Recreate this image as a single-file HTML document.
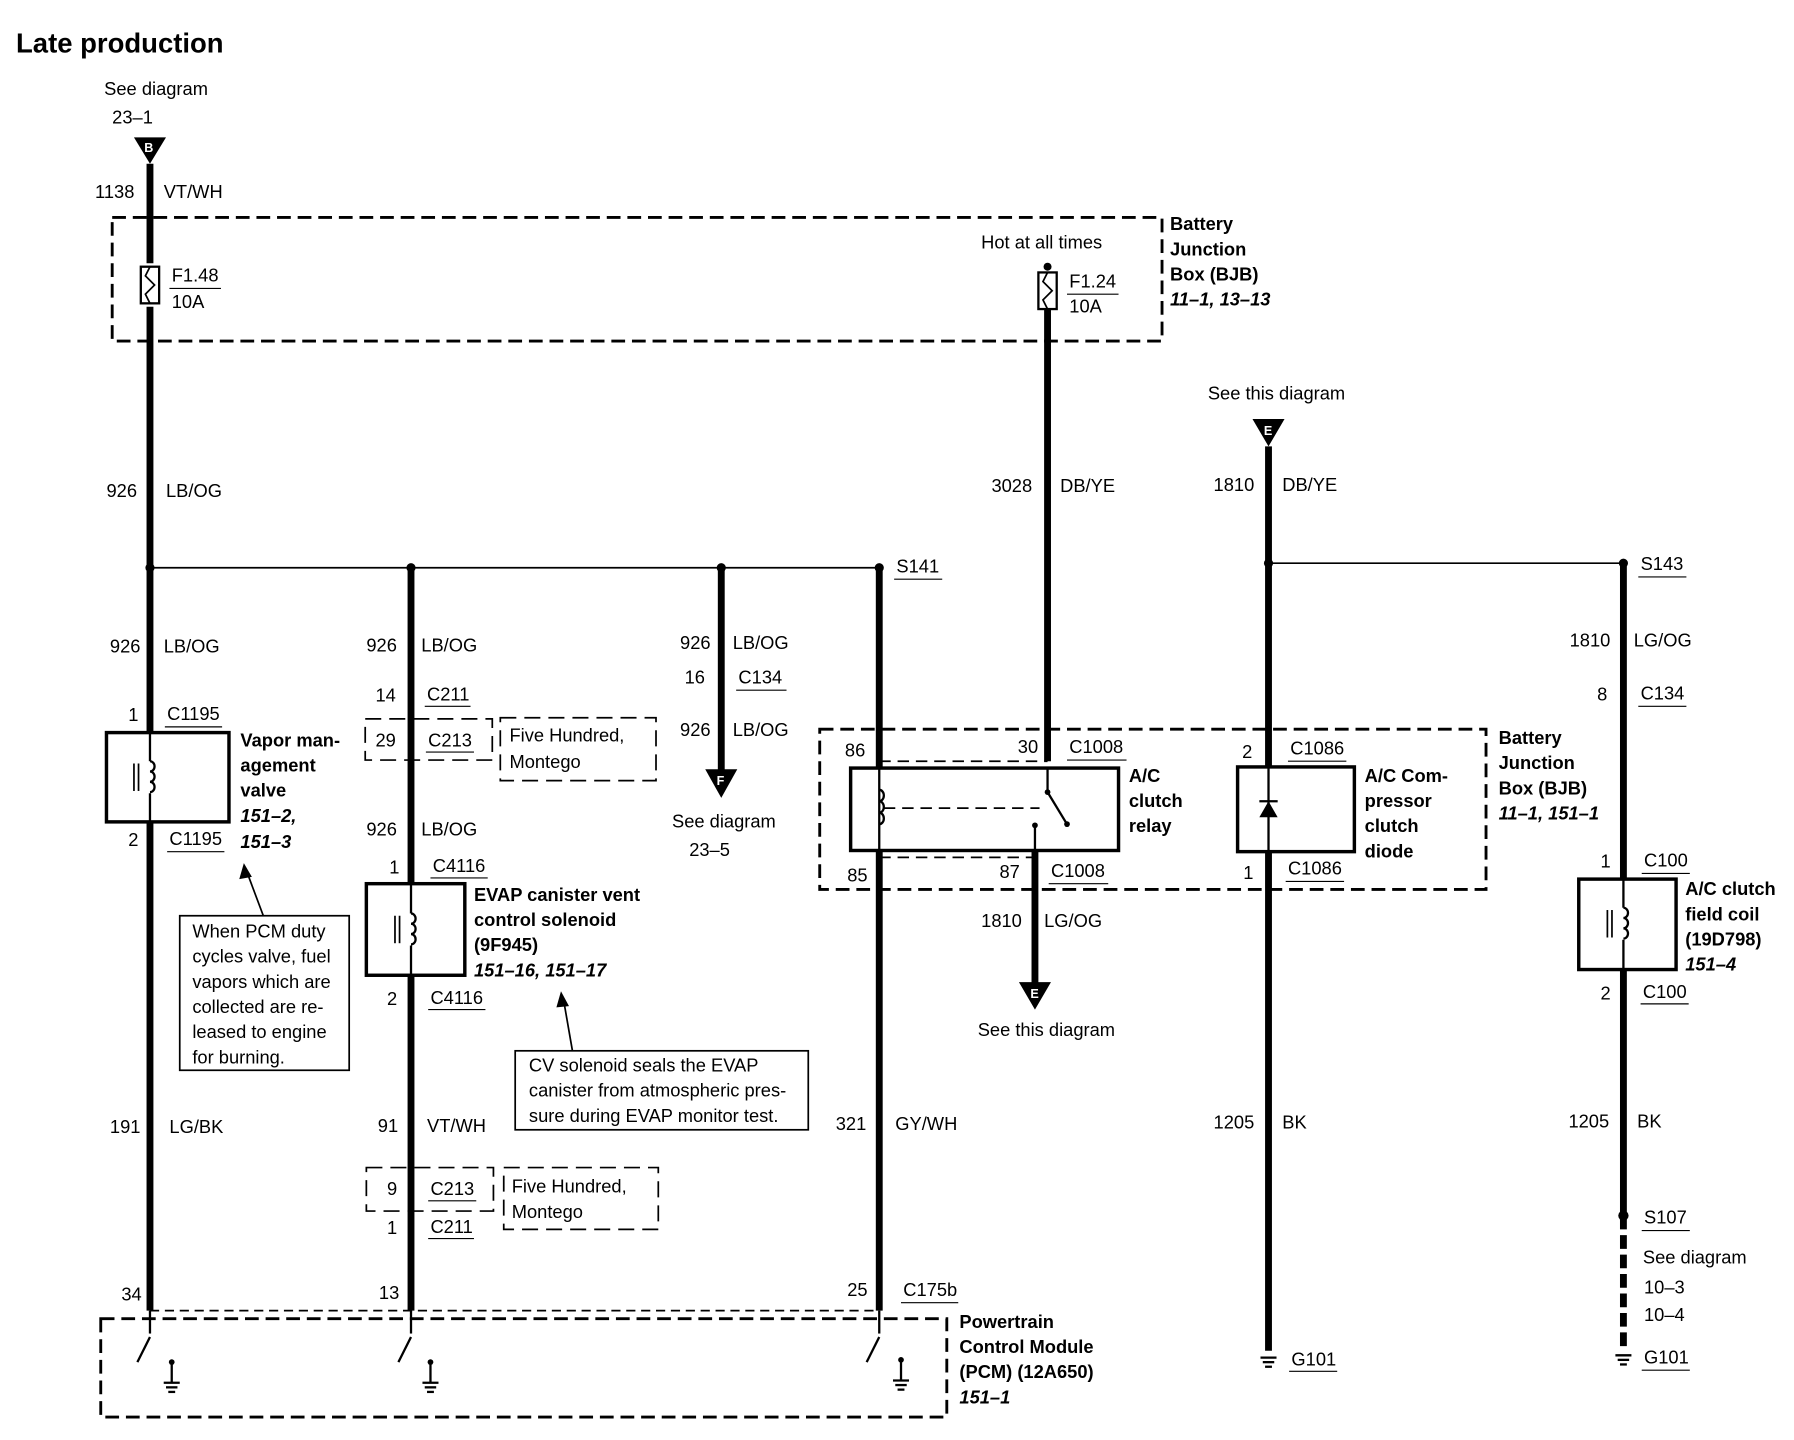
<!DOCTYPE html>
<html><head><meta charset="utf-8"><style>
html,body{margin:0;padding:0;background:#fff;}
svg{display:block;}
text{font-family:"Liberation Sans",Arial,sans-serif;font-size:16px;fill:#000;}
.b{font-weight:bold;}
.i{font-weight:bold;font-style:italic;}
.w{stroke:#000;stroke-width:6;fill:none;}
.t{stroke:#000;stroke-width:1.5;fill:none;}
.d{stroke:#000;stroke-width:2.5;fill:none;stroke-dasharray:12,6;}
.dt{stroke:#000;stroke-width:1.5;fill:none;stroke-dasharray:14,7;}
.bx{stroke:#000;stroke-width:3;fill:#fff;}
.u{stroke:#000;stroke-width:1;}
</style></head><body>
<svg width="1794" height="1440" viewBox="0 0 1567 1258" preserveAspectRatio="none" xmlns="http://www.w3.org/2000/svg">
<defs>
<g id="coil"><line x1="-14" y1="-12" x2="-14" y2="12" class="t"/><line x1="-10" y1="-12" x2="-10" y2="12" class="t"/><path d="M0,-14 a4,4.5 0 0 1 0,9 a4,4.5 0 0 1 0,9 a4,4.5 0 0 1 0,9" class="t" style="stroke-width:2"/></g>
</defs>
<text x="14" y="46" class="b" style="font-size:24px">Late production</text>
<text x="91" y="83">See diagram</text>
<text x="98" y="108">23–1</text>
<polygon points="117,120 145,120 131,143" fill="#000"/>
<text x="126" y="133" style="fill:#fff;font-size:11px" class="b">B</text>
<line x1="131" y1="143" x2="131" y2="230" class="w"/>
<line x1="131" y1="268" x2="131" y2="1145" class="w"/>
<text x="83" y="173">1138</text><text x="143" y="173">VT/WH</text>
<rect x="98" y="190" width="917" height="108" class="d"/>
<rect x="123" y="233" width="16" height="32" class="t" style="stroke-width:2"/>
<path d="M131,233 l-4,8 8,8 -8,8 4,8" class="t"/>
<text x="150" y="246">F1.48</text><line x1="148" y1="252" x2="193" y2="252" class="u"/><text x="150" y="269">10A</text>
<text x="857" y="217">Hot at all times</text>
<circle cx="915" cy="233" r="3.5"/>
<rect x="907" y="238" width="16" height="32" class="t" style="stroke-width:2"/>
<path d="M915,238 l-4,8 8,8 -8,8 4,8" class="t"/>
<text x="934" y="251">F1.24</text><line x1="932" y1="257" x2="977" y2="257" class="u"/><text x="934" y="273">10A</text>
<line x1="915" y1="270" x2="915" y2="665" class="w"/>
<text x="1022" y="201" class="b">Battery</text><text x="1022" y="223" class="b">Junction</text><text x="1022" y="245" class="b">Box (BJB)</text><text x="1022" y="267" class="i">11–1, 13–13</text>
<text x="93" y="434">926</text><text x="145" y="434">LB/OG</text>
<line x1="131" y1="496" x2="768" y2="496" class="t"/>
<circle cx="131" cy="496" r="4"/><circle cx="359" cy="496" r="4"/><circle cx="630" cy="496" r="4"/><circle cx="768" cy="496" r="4"/>
<text x="783" y="500">S141</text><line x1="781" y1="506" x2="823" y2="506" class="u"/>
<text x="866" y="430">3028</text><text x="926" y="430">DB/YE</text>
<text x="1055" y="349">See this diagram</text>
<polygon points="1094,366 1122,366 1108,390" fill="#000"/>
<text x="1104" y="380" style="fill:#fff;font-size:11px" class="b">E</text>
<line x1="1108" y1="390" x2="1108" y2="1180" class="w"/>
<text x="1060" y="429">1810</text><text x="1120" y="429">DB/YE</text>
<line x1="1108" y1="492" x2="1418" y2="492" class="t"/>
<circle cx="1108" cy="492" r="4"/><circle cx="1418" cy="492" r="4"/>
<text x="1433" y="498">S143</text><line x1="1431" y1="504" x2="1473" y2="504" class="u"/>
<!-- col1 -->
<text x="96" y="570">926</text><text x="143" y="570">LB/OG</text>
<text x="112" y="630">1</text><text x="146" y="629">C1195</text><line x1="144" y1="635" x2="194" y2="635" class="u"/>
<rect x="93" y="640" width="107" height="78" class="bx"/>
<use href="#coil" x="131" y="679"/>
<line x1="131" y1="640" x2="131" y2="665" class="t" style="stroke-width:2"/><line x1="131" y1="693" x2="131" y2="718" class="t" style="stroke-width:2"/>
<text x="112" y="739">2</text><text x="148" y="738">C1195</text><line x1="146" y1="744" x2="196" y2="744" class="u"/>
<text x="210" y="652" class="b">Vapor man-</text><text x="210" y="674" class="b">agement</text><text x="210" y="696" class="b">valve</text><text x="210" y="718" class="i">151–2,</text><text x="210" y="741" class="i">151–3</text>
<rect x="157" y="800" width="148" height="135" class="t"/>
<line x1="230" y1="800" x2="215" y2="760" class="t"/><polygon points="213,754 209,768 220,766"/>
<text x="168" y="819">When PCM duty</text><text x="168" y="841">cycles valve, fuel</text><text x="168" y="863">vapors which are</text><text x="168" y="885">collected are re-</text><text x="168" y="907">leased to engine</text><text x="168" y="929">for burning.</text>
<text x="96" y="990">191</text><text x="148" y="990">LG/BK</text>
<text x="106" y="1136">34</text>
<!-- col2 -->
<line x1="359" y1="496" x2="359" y2="772" class="w"/>
<line x1="359" y1="852" x2="359" y2="1145" class="w"/>
<text x="320" y="569">926</text><text x="368" y="569">LB/OG</text>
<text x="328" y="613">14</text><text x="373" y="612">C211</text><line x1="371" y1="617" x2="411" y2="617" class="u"/>
<rect x="319" y="628" width="111" height="36" class="dt"/>
<text x="328" y="652">29</text><text x="374" y="652">C213</text><line x1="372" y1="657" x2="414" y2="657" class="u"/>
<rect x="437" y="627" width="136" height="55" class="dt"/>
<text x="445" y="648">Five Hundred,</text><text x="445" y="671">Montego</text>
<text x="320" y="730">926</text><text x="368" y="730">LB/OG</text>
<text x="340" y="763">1</text><text x="378" y="762">C4116</text><line x1="376" y1="767" x2="426" y2="767" class="u"/>
<rect x="320" y="772" width="86" height="80" class="bx"/>
<use href="#coil" x="359" y="812"/>
<line x1="359" y1="772" x2="359" y2="798" class="t" style="stroke-width:2"/><line x1="359" y1="826" x2="359" y2="852" class="t" style="stroke-width:2"/>
<text x="338" y="878">2</text><text x="376" y="877">C4116</text><line x1="374" y1="882" x2="424" y2="882" class="u"/>
<text x="414" y="787" class="b">EVAP canister vent</text><text x="414" y="809" class="b">control solenoid</text><text x="414" y="831" class="b">(9F945)</text><text x="414" y="853" class="i">151–16, 151–17</text>
<rect x="450" y="918" width="256" height="69" class="t"/>
<line x1="500" y1="918" x2="492" y2="872" class="t"/><polygon points="490,866 486,880 497,879"/>
<text x="462" y="936">CV solenoid seals the EVAP</text><text x="462" y="958">canister from atmospheric pres-</text><text x="462" y="980">sure during EVAP monitor test.</text>
<text x="330" y="989">91</text><text x="373" y="989">VT/WH</text>
<rect x="320" y="1020" width="111" height="38" class="dt"/>
<text x="338" y="1044">9</text><text x="376" y="1044">C213</text><line x1="374" y1="1049" x2="416" y2="1049" class="u"/>
<rect x="440" y="1020" width="135" height="54" class="dt"/>
<text x="447" y="1042">Five Hundred,</text><text x="447" y="1064">Montego</text>
<text x="338" y="1078">1</text><text x="376" y="1077">C211</text><line x1="374" y1="1082" x2="414" y2="1082" class="u"/>
<text x="331" y="1135">13</text>
<!-- col3 -->
<line x1="630" y1="496" x2="630" y2="675" class="w"/>
<text x="594" y="567">926</text><text x="640" y="567">LB/OG</text>
<text x="598" y="597">16</text><text x="645" y="597">C134</text><line x1="643" y1="603" x2="687" y2="603" class="u"/>
<text x="594" y="643">926</text><text x="640" y="643">LB/OG</text>
<polygon points="616,672 644,672 630,697" fill="#000"/>
<text x="626" y="686" style="fill:#fff;font-size:11px" class="b">F</text>
<text x="587" y="723">See diagram</text><text x="602" y="748">23–5</text>
<!-- col4 -->
<line x1="768" y1="496" x2="768" y2="671" class="w"/>
<line x1="768" y1="743" x2="768" y2="1145" class="w"/>
<rect x="716" y="637" width="582" height="140" class="d"/>
<text x="738" y="661">86</text><text x="889" y="658">30</text><text x="934" y="658">C1008</text><line x1="932" y1="664" x2="984" y2="664" class="u"/>
<line x1="768" y1="665" x2="915" y2="665" class="t" style="stroke-dasharray:10,6"/>
<rect x="743" y="671" width="234" height="72" class="bx"/>
<line x1="768" y1="671" x2="768" y2="743" class="t" style="stroke-width:2"/>
<path d="M768,690 a4,5 0 0 1 0,10 a4,5 0 0 1 0,10 a4,5 0 0 1 0,10" class="t" style="stroke-width:2"/>
<line x1="772" y1="706" x2="908" y2="706" class="t" style="stroke-dasharray:10,6"/>
<line x1="915" y1="671" x2="915" y2="692" class="t" style="stroke-width:2"/>
<line x1="915" y1="692" x2="932" y2="720" class="t" style="stroke-width:2"/>
<circle cx="915" cy="692" r="2.5"/><circle cx="932" cy="720" r="2.5"/>
<circle cx="904" cy="721" r="2.5"/><line x1="904" y1="721" x2="904" y2="743" class="t" style="stroke-width:2"/>
<line x1="768" y1="749" x2="904" y2="749" class="t" style="stroke-dasharray:10,6"/>
<text x="986" y="683" class="b">A/C</text><text x="986" y="705" class="b">clutch</text><text x="986" y="727" class="b">relay</text>
<text x="740" y="770">85</text><text x="873" y="767">87</text><text x="918" y="766">C1008</text><line x1="916" y1="772" x2="968" y2="772" class="u"/>
<line x1="904" y1="743" x2="904" y2="860" class="w"/>
<text x="857" y="810">1810</text><text x="912" y="810">LG/OG</text>
<polygon points="890,858 918,858 904,882" fill="#000"/>
<text x="900" y="872" style="fill:#fff;font-size:11px" class="b">E</text>
<text x="854" y="905">See this diagram</text>
<text x="730" y="987">321</text><text x="782" y="987">GY/WH</text>
<text x="740" y="1132">25</text><text x="789" y="1132">C175b</text><line x1="787" y1="1138" x2="837" y2="1138" class="u"/>
<!-- diode -->
<text x="1085" y="662">2</text><text x="1127" y="659">C1086</text><line x1="1125" y1="665" x2="1176" y2="665" class="u"/>
<rect x="1081" y="670" width="102" height="74" class="bx"/>
<line x1="1108" y1="670" x2="1108" y2="744" class="t" style="stroke-width:2"/>
<polygon points="1100,714 1116,714 1108,700"/><line x1="1100" y1="700" x2="1116" y2="700" class="t" style="stroke-width:2"/>
<text x="1086" y="768">1</text><text x="1125" y="764">C1086</text><line x1="1123" y1="770" x2="1174" y2="770" class="u"/>
<text x="1192" y="683" class="b">A/C Com-</text><text x="1192" y="705" class="b">pressor</text><text x="1192" y="727" class="b">clutch</text><text x="1192" y="749" class="b">diode</text>
<text x="1309" y="650" class="b">Battery</text><text x="1309" y="672" class="b">Junction</text><text x="1309" y="694" class="b">Box (BJB)</text><text x="1309" y="716" class="i">11–1, 151–1</text>
<text x="1060" y="986">1205</text><text x="1120" y="986">BK</text>
<line x1="1101" y1="1186" x2="1115" y2="1186" class="t" style="stroke-width:2"/><line x1="1103" y1="1190" x2="1113" y2="1190" class="t" style="stroke-width:2"/><line x1="1105" y1="1194" x2="1111" y2="1194" class="t" style="stroke-width:2"/>
<text x="1128" y="1193">G101</text><line x1="1126" y1="1198" x2="1168" y2="1198" class="u"/>
<!-- right col -->
<line x1="1418" y1="492" x2="1418" y2="768" class="w"/>
<line x1="1418" y1="847" x2="1418" y2="1062" class="w"/>
<line x1="1418" y1="1062" x2="1418" y2="1180" class="w" style="stroke-dasharray:12,5"/>
<text x="1371" y="565">1810</text><text x="1427" y="565">LG/OG</text>
<text x="1395" y="612">8</text><text x="1433" y="611">C134</text><line x1="1431" y1="617" x2="1473" y2="617" class="u"/>
<text x="1398" y="758">1</text><text x="1436" y="757">C100</text><line x1="1434" y1="763" x2="1476" y2="763" class="u"/>
<rect x="1379" y="768" width="85" height="79" class="bx"/>
<use href="#coil" x="1418" y="807"/>
<line x1="1418" y1="768" x2="1418" y2="793" class="t" style="stroke-width:2"/><line x1="1418" y1="821" x2="1418" y2="847" class="t" style="stroke-width:2"/>
<text x="1398" y="873">2</text><text x="1435" y="872">C100</text><line x1="1433" y1="877" x2="1475" y2="877" class="u"/>
<text x="1472" y="782" class="b">A/C clutch</text><text x="1472" y="804" class="b">field coil</text><text x="1472" y="826" class="b">(19D798)</text><text x="1472" y="848" class="i">151–4</text>
<text x="1370" y="985">1205</text><text x="1430" y="985">BK</text>
<circle cx="1418" cy="1062" r="4.5"/>
<text x="1436" y="1069">S107</text><line x1="1434" y1="1075" x2="1476" y2="1075" class="u"/>
<text x="1435" y="1104">See diagram</text><text x="1436" y="1130">10–3</text><text x="1436" y="1154">10–4</text>
<line x1="1411" y1="1184" x2="1425" y2="1184" class="t" style="stroke-width:2"/><line x1="1413" y1="1188" x2="1423" y2="1188" class="t" style="stroke-width:2"/><line x1="1415" y1="1192" x2="1421" y2="1192" class="t" style="stroke-width:2"/>
<text x="1436" y="1191">G101</text><line x1="1434" y1="1197" x2="1476" y2="1197" class="u"/>
<!-- PCM -->
<line x1="131" y1="1145" x2="768" y2="1145" class="t" style="stroke-dasharray:8,5"/>
<rect x="88" y="1152" width="739" height="86" class="d"/>
<g class="t" style="stroke-width:2">
<line x1="131" y1="1145" x2="131" y2="1165"/><line x1="131" y1="1168" x2="120" y2="1190"/>
<line x1="359" y1="1145" x2="359" y2="1165"/><line x1="359" y1="1168" x2="348" y2="1190"/>
<line x1="768" y1="1145" x2="768" y2="1165"/><line x1="768" y1="1168" x2="757" y2="1190"/>
<line x1="150" y1="1190" x2="150" y2="1208"/><line x1="143" y1="1208" x2="157" y2="1208"/><line x1="145" y1="1212" x2="155" y2="1212"/><line x1="147" y1="1216" x2="153" y2="1216"/>
<line x1="376" y1="1190" x2="376" y2="1208"/><line x1="369" y1="1208" x2="383" y2="1208"/><line x1="371" y1="1212" x2="381" y2="1212"/><line x1="373" y1="1216" x2="379" y2="1216"/>
<line x1="787" y1="1188" x2="787" y2="1206"/><line x1="780" y1="1206" x2="794" y2="1206"/><line x1="782" y1="1210" x2="792" y2="1210"/><line x1="784" y1="1214" x2="790" y2="1214"/>
</g>
<circle cx="150" cy="1190" r="2.5"/><circle cx="376" cy="1190" r="2.5"/><circle cx="787" cy="1188" r="2.5"/>
<text x="838" y="1160" class="b">Powertrain</text><text x="838" y="1182" class="b">Control Module</text><text x="838" y="1204" class="b">(PCM) (12A650)</text><text x="838" y="1226" class="i">151–1</text>
</svg>
</body></html>
